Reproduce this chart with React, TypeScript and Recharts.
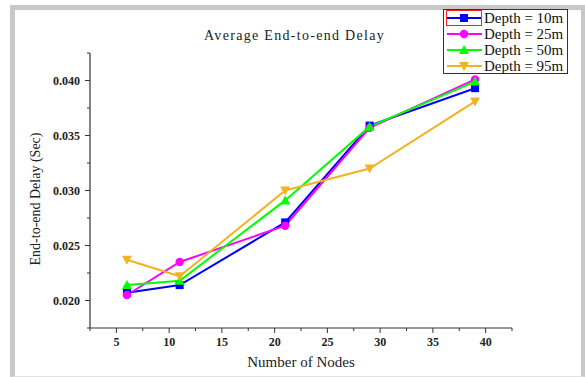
import { LineChart, Line, XAxis, YAxis, Legend } from "recharts";

const nodes = [6, 11, 21, 29, 39];
const depth10 = [0.0207, 0.0214, 0.0271, 0.0359, 0.0393];
const depth25 = [0.0205, 0.0235, 0.0268, 0.0357, 0.0401];
const depth50 = [0.0214, 0.0218, 0.0291, 0.0358, 0.0399];
const depth95 = [0.0237, 0.0222, 0.03, 0.032, 0.0381];

const xTicks = [2.5, 5, 7.5, 10, 12.5, 15, 17.5, 20, 22.5, 25, 27.5, 30, 32.5, 35, 37.5, 40, 42.5];
const yTicks = [0.0175, 0.02, 0.0225, 0.025, 0.0275, 0.03, 0.0325, 0.035, 0.0375, 0.04, 0.0425];

const data = nodes.map((n, i) => ({
  n,
  d10: depth10[i],
  d25: depth25[i],
  d50: depth50[i],
  d95: depth95[i],
}));

const FONT = "'Liberation Serif', 'Times New Roman', Times, serif";
const AXIS = "#333";

const series = [
  { key: "d10", name: "Depth = 10m", color: "#0000ff", shape: "square" },
  { key: "d25", name: "Depth = 25m", color: "#ff00ff", shape: "circle" },
  { key: "d50", name: "Depth = 50m", color: "#00ff00", shape: "up" },
  { key: "d95", name: "Depth = 95m", color: "#f0b323", shape: "down" },
];

function Marker({ cx, cy, shape, color }: any) {
  if (cx == null || cy == null) return null;
  if (shape === "square") return <rect x={cx - 4} y={cy - 4} width={8} height={8} fill={color} />;
  if (shape === "circle") return <circle cx={cx} cy={cy} r={4.2} fill={color} />;
  if (shape === "up")
    return <polygon points={`${cx},${cy - 5} ${cx - 5},${cy + 4} ${cx + 5},${cy + 4}`} fill={color} />;
  return <polygon points={`${cx},${cy + 5} ${cx - 5},${cy - 4} ${cx + 5},${cy - 4}`} fill={color} />;
}

function XTick({ x, y, payload }: any) {
  const v = payload.value;
  const major = v % 5 === 0;
  return (
    <g>
      <line x1={x} x2={x} y1={y} y2={y + (major ? 5 : 3)} stroke={AXIS} strokeWidth={1} />
      {major && (
        <text x={x} y={y + 18} textAnchor="middle" fontFamily={FONT} fontWeight="bold" fontSize={12} fill="#222">
          {v}
        </text>
      )}
    </g>
  );
}

function YTick({ x, y, payload }: any) {
  const v = payload.value;
  const major = Math.round(v * 10000) % 50 === 0;
  return (
    <g>
      <line x1={x} x2={x - (major ? 5 : 3)} y1={y} y2={y} stroke={AXIS} strokeWidth={1} />
      {major && (
        <text x={x - 10} y={y + 4} textAnchor="end" fontFamily={FONT} fontWeight="bold" fontSize={12} fill="#222">
          {v.toFixed(3)}
        </text>
      )}
    </g>
  );
}

function LegendBox() {
  return (
    <div
      style={{
        width: 125,
        height: 65,
        boxSizing: "border-box",
        border: "1px solid #333",
        background: "#fff",
        paddingLeft: 1,
        fontFamily: FONT,
        fontSize: 15,
        color: "#111",
        lineHeight: "16px",
      }}
    >
      {series.map((s, i) => (
        <div key={s.key} style={{ height: 16, display: "flex", alignItems: "center" }}>
          <svg width={38} height={16} style={{ display: "block", flex: "none" }}>
            <line x1={2} x2={37} y1={8} y2={8} stroke={s.color} strokeWidth={2} />
            <Marker cx={19} cy={8} shape={s.shape} color={s.color} />
            {i === 0 && <rect x={1.5} y={0.5} width={35} height={15} fill="none" stroke="#ff2020" strokeWidth={1} />}
          </svg>
          <span style={{ marginLeft: 1, whiteSpace: "nowrap" }}>{s.name}</span>
        </div>
      ))}
    </div>
  );
}

export default function App() {
  return (
    <div style={{ position: "absolute", left: 0, top: 0, width: 585, height: 377, background: "#fff" }}>
      <div
        style={{
          position: "absolute",
          left: 10,
          top: 5,
          width: 566,
          height: 366,
          borderTop: "5px solid #c8c8c8",
          borderLeft: "5px solid #c8c8c8",
          borderRight: "4px solid #c8c8c8",
          borderBottom: "1px solid #e2e2e2",
        }}
      />
      <LineChart width={585} height={377} data={data} margin={{ top: 53, right: 73, left: 30, bottom: 19 }}>
        <XAxis
          dataKey="n"
          type="number"
          domain={[2.5, 42.5]}
          ticks={xTicks}
          interval={0}
          height={30}
          tickSize={0}
          tickMargin={0}
          tickLine={false}
          tick={<XTick />}
          axisLine={{ stroke: AXIS, strokeWidth: 1.2 }}
        />
        <YAxis
          type="number"
          domain={[0.0175, 0.0425]}
          ticks={yTicks}
          interval={0}
          width={60}
          tickSize={0}
          tickMargin={0}
          tickLine={false}
          tick={<YTick />}
          axisLine={{ stroke: AXIS, strokeWidth: 1.2 }}
        />
        <Legend
          layout="vertical"
          align="center"
          verticalAlign="middle"
          content={<LegendBox />}
          wrapperStyle={{ position: "absolute", left: 443, top: 9, width: 125, height: 65 }}
        />
        {series.map((s) => (
          <Line
            key={s.key}
            dataKey={s.key}
            name={s.name}
            stroke={s.color}
            strokeWidth={2}
            isAnimationActive={false}
            dot={(p: any) => <Marker key={`${s.key}-${p.index}`} cx={p.cx} cy={p.cy} shape={s.shape} color={s.color} />}
            activeDot={false}
          />
        ))}
      </LineChart>
      <div
        style={{
          position: "absolute",
          left: 0,
          width: 585,
          top: 28,
          textAlign: "center",
          fontFamily: FONT,
          fontSize: 14,
          letterSpacing: 1.3,
          color: "#222",
          paddingLeft: 2,
        }}
      >
        Average End-to-end Delay
      </div>
      <div
        style={{
          position: "absolute",
          left: 101,
          width: 400,
          top: 354,
          textAlign: "center",
          fontFamily: FONT,
          fontSize: 15,
          color: "#222",
        }}
      >
        Number of Nodes
      </div>
      <div
        style={{
          position: "absolute",
          left: 36,
          top: 199,
          transform: "translate(-50%, -50%) rotate(-90deg)",
          fontFamily: FONT,
          fontSize: 14,
          color: "#222",
          whiteSpace: "nowrap",
        }}
      >
        End-to-end Delay (Sec)
      </div>
    </div>
  );
}
